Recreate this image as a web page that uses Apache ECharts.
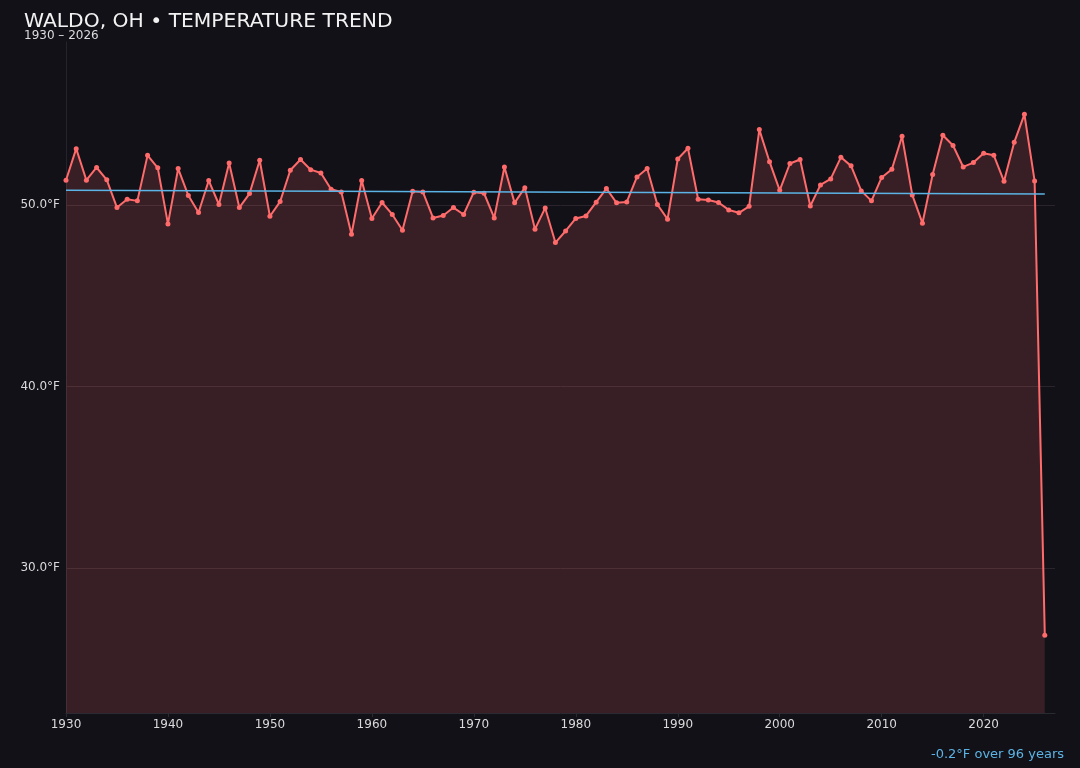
<!DOCTYPE html>
<html>
<head>
<meta charset="utf-8">
<script src="https://cdn.jsdelivr.net/npm/echarts@6/dist/echarts.min.js"></script>
<style>
html,body{margin:0;padding:0;background:#121118;}
#chart{width:1080px;height:768px;}
</style>
</head>
<body>
<div id="chart"></div>
<script>
const startYear = 1930;
const temps = [
  51.38, 53.12, 51.38, 52.08, 51.40, 49.87, 50.33, 50.24, 52.75, 52.06,
  48.97, 52.02, 50.53, 49.60, 51.36, 50.04, 52.33, 49.87, 50.64, 52.48,
  49.39, 50.20, 51.93, 52.52, 51.96, 51.78, 50.88, 50.73, 48.40, 51.36,
  49.27, 50.15, 49.49, 48.62, 50.77, 50.73, 49.30, 49.43, 49.87, 49.49,
  50.72, 50.66, 49.30, 52.11, 50.13, 50.97, 48.68, 49.85, 47.94, 48.58,
  49.27, 49.41, 50.17, 50.92, 50.13, 50.18, 51.56, 52.02, 50.04, 49.23,
  52.55, 53.14, 50.33, 50.29, 50.15, 49.74, 49.58, 49.94, 54.17, 52.40,
  50.82, 52.30, 52.52, 49.96, 51.12, 51.45, 52.64, 52.17, 50.79, 50.24,
  51.53, 51.98, 53.80, 50.57, 49.01, 51.69, 53.86, 53.29, 52.11, 52.35,
  52.86, 52.75, 51.32, 53.47, 55.01, 51.34, 26.29
];
const years = temps.map((_, i) => startYear + i);
const xTicks = [1930, 1940, 1950, 1960, 1970, 1980, 1990, 2000, 2010, 2020];
const yTicks = [30, 40, 50];
const trendYears = [1930, 2026];
const trendValues = [50.83, 50.62];
const titleText = 'WALDO, OH \u2022 TEMPERATURE TREND';
const subtitleText = '1930 \u2013 2026';
const trendNote = '-0.2\u00B0F over 96 years';

const chart = echarts.init(document.getElementById('chart'));
const font = 'DejaVu Sans';
chart.setOption({
  backgroundColor: '#121118',
  animation: false,
  textStyle: { fontFamily: font },
  title: [
    { text: titleText, left: 19, top: 7, textStyle: { color: '#f2f2f2', fontSize: 20.3, fontWeight: 'normal', fontFamily: font } },
    { text: subtitleText, left: 19, top: 25, textStyle: { color: '#dcdcdc', fontSize: 12, fontWeight: 'normal', fontFamily: font } },
    { text: trendNote, right: 11, top: 743, textStyle: { color: '#5bb4e5', fontSize: 13, fontWeight: 'normal', fontFamily: font } }
  ],
  grid: { left: 66, right: 25, top: 42, bottom: 55, containLabel: false },
  xAxis: {
    type: 'value', min: 1930, max: 2027,
    axisLine: { show: true, lineStyle: { color: '#2a2a33' } },
    axisTick: { show: true, customValues: xTicks, length: 4, lineStyle: { color: '#2a2a33' } },
    splitLine: { show: false },
    axisLabel: { color: '#dadada', fontSize: 12, margin: 6, customValues: xTicks, formatter: v => String(v) }
  },
  yAxis: {
    type: 'value', min: 22, max: 59,
    axisLine: { show: true, lineStyle: { color: '#24242c' } },
    axisTick: { show: false, customValues: yTicks },
    splitLine: { show: true, lineStyle: { color: '#2a252d', width: 1 } },
    axisLabel: { color: '#dadada', fontSize: 12, margin: 6, customValues: yTicks,
      formatter: v => v.toFixed(1) + '\u00B0F' }
  },
  series: [
    {
      type: 'line',
      data: years.map((y, i) => [y, temps[i]]),
      symbol: 'circle', symbolSize: 5,
      lineStyle: { color: '#ff6b6b', width: 2 },
      itemStyle: { color: '#ff6b6b' },
      areaStyle: { color: 'rgba(255,107,107,0.16)', opacity: 1, origin: 'start' },
      z: 3
    },
    {
      type: 'line',
      data: trendYears.map((y, i) => [y, trendValues[i]]),
      symbol: 'none',
      lineStyle: { color: '#5bb4e5', width: 1.5 },
      z: 4
    }
  ]
});
</script>
</body>
</html>
